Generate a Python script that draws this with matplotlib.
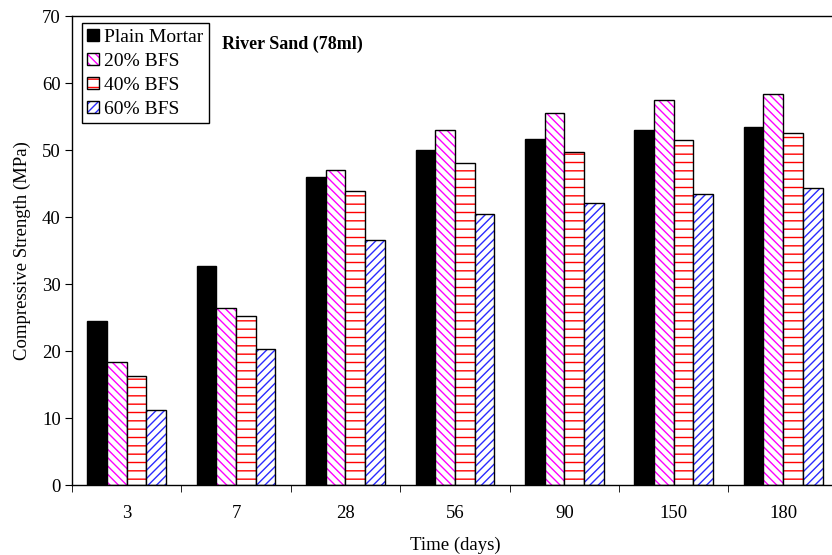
import numpy as np
import matplotlib.pyplot as plt
import matplotlib.colors as mcolors

plt.rcParams['font.family'] = ['Liberation Serif', 'DejaVu Serif']
plt.rcParams['hatch.linewidth'] = 1.0

days = ['3', '7', '28', '56', '90', '150', '180']
plain = [24.5, 32.7, 46.0, 50.0, 51.7, 53.0, 53.5]
bfs20 = [18.3, 26.4, 47.1, 53.0, 55.6, 57.5, 58.3]
bfs40 = [16.3, 25.3, 43.9, 48.0, 49.7, 51.5, 52.5]
bfs60 = [11.2, 20.3, 36.6, 40.4, 42.1, 43.5, 44.3]

series = [
    ('Plain Mortar', plain, 'black', None),
    ('20% BFS', bfs20, '#ff00ff', '\\\\\\\\'),
    ('40% BFS', bfs40, '#ff0000', '--'),
    ('60% BFS', bfs60, '#2b2bff', '////'),
]

fig = plt.figure(figsize=(8.32, 5.55), dpi=100)
ax = fig.add_axes([0.0865, 0.126, 0.9205, 0.845])

x = np.arange(len(days))
w = 0.18
handles = []
for i, (name, vals, col, hatch) in enumerate(series):
    pos = x + (i - 1.5) * w
    if hatch is None:
        b = ax.bar(pos, vals, w, color=col, edgecolor='black', linewidth=1.0)
    else:
        b = ax.bar(pos, vals, w, color='white', edgecolor='black', hatch=hatch, linewidth=1.0)
        # black outline, coloured hatch
        for p in b:
            p._hatch_color = mcolors.to_rgba(col)
    handles.append(b[0])

ax.set_xlim(-0.5, len(days) - 0.5)
ax.set_ylim(0, 70)
ax.set_yticks(range(0, 71, 10))
ax.set_xticks(x)
ax.set_xticklabels(days)
ax.set_xticks(np.arange(-0.5, len(days), 1.0), minor=True)
ax.tick_params(axis='x', which='major', length=0, pad=14, labelsize=13.5)
ax.tick_params(axis='x', which='minor', length=5, direction='out')
ax.tick_params(axis='y', length=5, direction='out', labelsize=13.5, pad=3)
ax.spines['right'].set_visible(False)
for s in ['left', 'bottom', 'top']:
    ax.spines[s].set_linewidth(1.0)

ax.set_ylabel('Compressive Strength (MPa)', fontsize=13.5, labelpad=8)
ax.set_xlabel('Time (days)', fontsize=13.5, labelpad=11)

leg = ax.legend(handles, [s[0] for s in series], loc='upper left',
                bbox_to_anchor=(0.013, 0.985), fontsize=14, frameon=True,
                fancybox=False, edgecolor='black', framealpha=1,
                handlelength=0.62, handleheight=0.6, handletextpad=0.25,
                labelspacing=0.36, borderpad=0.28, borderaxespad=0)
leg.get_frame().set_linewidth(1.0)

ax.text(0.196, 0.94, 'River Sand (78ml)', transform=ax.transAxes,
        fontsize=13, fontweight='bold', va='center')

fig.savefig('out.png', dpi=100)
